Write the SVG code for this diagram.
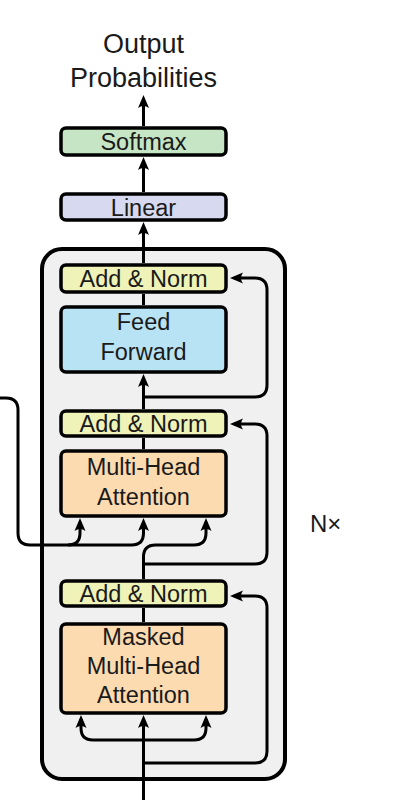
<svg xmlns="http://www.w3.org/2000/svg" width="405" height="800" viewBox="0 0 405 800">
<style>
.box{stroke:#000;stroke-width:3.5}
.lbl{font-family:"Liberation Sans",Arial,sans-serif;font-size:23.5px;fill:#1a1a1a;text-anchor:middle}
.top{font-family:"Liberation Sans",Arial,sans-serif;font-size:27px;fill:#1a1a1a;text-anchor:middle}
.ln{fill:none;stroke:#000;stroke-width:3}
.arr{marker-end:url(#ah)}
</style>
<defs>
<marker id="ah" markerUnits="userSpaceOnUse" viewBox="-10 -6 14 12" markerWidth="14" markerHeight="12" refX="0" refY="0" orient="auto">
<path d="M4,0 L-9,-5.5 Q-5,0 -9,5.5 Z" fill="#000"/>
</marker>
</defs>
<rect width="405" height="800" fill="#fff"/>
<g id="decoder-stack">
<rect x="42" y="249" width="243" height="530" rx="20" fill="#f0f0f0" stroke="#000" stroke-width="4"/>
</g>
<g id="connectors">
<path class="ln arr" d="M143.5,126 V99"/>
<path class="ln arr" d="M143.5,192 V161"/>
<path class="ln arr" d="M143.5,263 V226"/>
<path class="ln" d="M143.5,294 V305"/>
<path class="ln arr" d="M143.5,409 V378"/>
<path class="ln arr" d="M143.5,397 H255 Q267,397 267,385 V290 Q267,278 255,278 H234"/>
<path class="ln" d="M143.5,438 V449"/>
<path class="ln arr" d="M0,398 H6 Q18,398 18,410 V533 Q18,545 30,545 H131.5 Q143.5,545 143.5,533 V522"/>
<path class="ln arr" d="M68,545 Q80,545 80,533 V522"/>
<path class="ln arr" d="M143.5,579 V557 Q143.5,545 155.5,545 H194 Q206,545 206,533 V522"/>
<path class="ln arr" d="M143.5,564 H255 Q267,564 267,552 V436 Q267,424 255,424 H234"/>
<path class="ln" d="M143.5,608 V622"/>
<path class="ln arr" d="M143.5,800 V719"/>
<path class="ln arr" d="M143.5,740 H93 Q81,740 81,728 V719"/>
<path class="ln arr" d="M143.5,740 H194 Q206,740 206,728 V719"/>
<path class="ln arr" d="M143.5,763 H255 Q267,763 267,751 V608 Q267,596 255,596 H234"/>
</g>
<g id="output-label">
<text class="top" x="143.5" y="53">Output</text>
<text class="top" x="143.5" y="87">Probabilities</text>
</g>
<g id="softmax">
<rect class="box" x="61" y="128" width="165" height="27" rx="5" fill="#c6e5c4"/>
<text class="lbl" x="143.5" y="150">Softmax</text>
</g>
<g id="linear">
<rect class="box" x="61" y="194" width="165" height="26" rx="5" fill="#d6d9ef"/>
<text class="lbl" x="143.5" y="215.5">Linear</text>
</g>
<g id="add-norm-1">
<rect class="box" x="61" y="265" width="165" height="27" rx="5" fill="#eff3b8"/>
<text class="lbl" x="143.5" y="287">Add &amp; Norm</text>
</g>
<g id="feed-forward">
<rect class="box" x="61" y="307" width="165" height="65" rx="5" fill="#b8e3f5"/>
<text class="lbl" x="143.5" y="330">Feed</text>
<text class="lbl" x="143.5" y="360">Forward</text>
</g>
<g id="add-norm-2">
<rect class="box" x="61" y="411" width="165" height="25" rx="5" fill="#eff3b8"/>
<text class="lbl" x="143.5" y="432">Add &amp; Norm</text>
</g>
<g id="multi-head-attention">
<rect class="box" x="61" y="451" width="165" height="65" rx="5" fill="#fddbb0"/>
<text class="lbl" x="143.5" y="475">Multi-Head</text>
<text class="lbl" x="143.5" y="505">Attention</text>
</g>
<g id="add-norm-3">
<rect class="box" x="61" y="581" width="165" height="25" rx="5" fill="#eff3b8"/>
<text class="lbl" x="143.5" y="602">Add &amp; Norm</text>
</g>
<g id="masked-multi-head-attention">
<rect class="box" x="61" y="624" width="165" height="89" rx="5" fill="#fddbb0"/>
<text class="lbl" x="143.5" y="645">Masked</text>
<text class="lbl" x="143.5" y="674">Multi-Head</text>
<text class="lbl" x="143.5" y="703">Attention</text>
</g>
<g id="nx-label">
<text x="310" y="532" font-family="'Liberation Sans',Arial,sans-serif" font-size="24" fill="#1a1a1a">N×</text>
</g>
</svg>
